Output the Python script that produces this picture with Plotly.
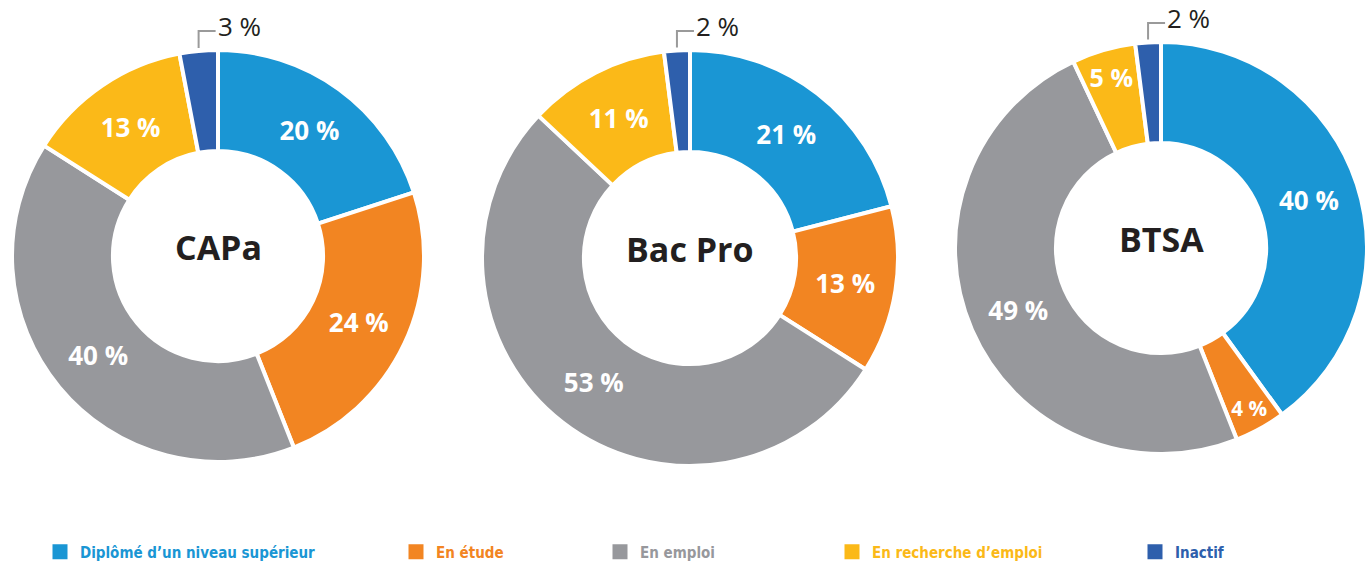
import math
import plotly.graph_objects as go

categories = ["Diplômé d’un niveau supérieur", "En étude", "En emploi",
              "En recherche d’emploi", "Inactif"]
colors = ["#1a96d4", "#f28522", "#97989c", "#fbb918", "#2e5fac"]
diplomas = ["CAPa", "Bac Pro", "BTSA"]
capa = [20, 24, 40, 13, 3]
bacpro = [21, 13, 53, 11, 2]
btsa = [40, 4, 49, 5, 2]
series = [capa, bacpro, btsa]

W, H = 1367, 562
# pie boxes in pixels (left, top, right, bottom)
boxes = [(12, 50, 424, 462), (482, 50, 898, 466), (955, 42, 1367, 454)]

fig = go.Figure()
shapes, annotations = [], []
for name, vals, (l, t, r_, b) in zip(diplomas, series, boxes):
    dom = dict(x=[l / W, r_ / W], y=[(H - b) / H, (H - t) / H])
    pos = ["none" if v <= 3 else "inside" for v in vals]
    fig.add_trace(go.Pie(
        labels=categories, values=vals, sort=False, direction="clockwise",
        rotation=0, hole=0.51, domain=dom, showlegend=False,
        marker=dict(colors=colors, line=dict(color="white", width=4)),
        texttemplate="%{value} %", textposition=pos,
        insidetextorientation="horizontal",
        insidetextfont=dict(family="Open Sans", size=26, color="white", weight="bold"),
        hoverinfo="label+value",
    ))
    cx, cy = (l + r_) / 2, (t + b) / 2
    rad = min(r_ - l, b - t) / 2
    annotations.append(dict(
        text=f"<b>{name}</b>", x=cx / W, y=1 - (cy - 9) / H, xref="paper", yref="paper",
        showarrow=False, xanchor="center", yanchor="middle",
        font=dict(family="Open Sans", size=34, color="#231f20"),
    ))
    total = sum(vals)
    cum = 0
    for v in vals:
        if v <= 3:
            th = 2 * math.pi * (cum + v / 2) / total
            px = cx + rad * math.sin(th)
            py = cy - rad * math.cos(th)
            ytop = cy - rad - 19
            shapes.append(dict(type="path", xref="paper", yref="paper",
                               path=f"M {px / W} {1 - (py - 3) / H} L {px / W} {1 - ytop / H} "
                                    f"L {(px + 17) / W} {1 - ytop / H}",
                               line=dict(color="#9a9a9a", width=2)))
            annotations.append(dict(
                text=f"{v} %", x=(px + 17) / W, y=1 - (ytop - 5) / H,
                xref="paper", yref="paper", showarrow=False,
                xanchor="left", yanchor="middle",
                font=dict(family="Open Sans", size=26, color="#231f20"),
            ))
        cum += v

legend_x = [40, 396, 600, 832, 1135]
layout_legends = {}
for i, (cat, col, lx) in enumerate(zip(categories, colors, legend_x)):
    key = "legend" if i == 0 else f"legend{i+1}"
    fig.add_trace(go.Scatter(
        x=[None], y=[None], mode="markers", name=cat,
        marker=dict(symbol="square", size=15, color=col),
        legend=key, showlegend=True, hoverinfo="skip",
    ))
    layout_legends[key] = dict(
        x=lx / W, xanchor="left", y=10 / H, yanchor="middle",
        orientation="h", bgcolor="rgba(0,0,0,0)",
        font=dict(family="DejaVu Sans Condensed", size=15, color=col, weight="bold"),
    )

fig.update_layout(
    width=W, height=H, margin=dict(l=0, r=0, t=0, b=0, autoexpand=False),
    paper_bgcolor="white", plot_bgcolor="white",
    xaxis=dict(visible=False), yaxis=dict(visible=False),
    shapes=shapes, annotations=annotations,
    **layout_legends,
)
fig.write_html("out.html", config={"displayModeBar": False},
               post_script="document.body.style.margin='0';document.body.style.overflow='hidden';")
